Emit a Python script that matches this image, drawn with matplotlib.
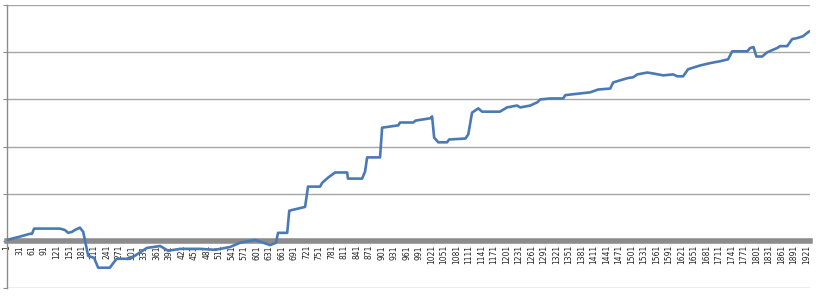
import matplotlib.pyplot as plt
import numpy as np

# cumulative curve, sampled at the turning points (trade number, value in grid units)
trade = [1, 32, 56, 61, 66, 128, 140, 148, 157, 164, 176, 184, 196, 210, 220,
         248, 258, 265, 297, 337, 369, 388, 417, 465, 501, 537, 561, 585, 597,
         633, 647, 652, 674, 679, 717, 724, 753, 758, 772, 789, 818, 820, 854,
         861, 866, 897, 902, 941, 945, 977, 982, 1018, 1022, 1027, 1037, 1058,
         1063, 1102, 1109, 1118, 1133, 1142, 1185, 1202, 1226, 1234, 1258, 1275,
         1282, 1306, 1337, 1342, 1361, 1402, 1421, 1450, 1457, 1491, 1505, 1515,
         1539, 1553, 1577, 1601, 1611, 1625, 1637, 1666, 1690, 1714, 1733, 1743,
         1779, 1786, 1794, 1801, 1815, 1827, 1851, 1858, 1875, 1887, 1899, 1913,
         1926, 1930]
value = [0.02, 0.09, 0.15, 0.15, 0.26, 0.26, 0.23, 0.17, 0.19, 0.23, 0.28, 0.19,
         -0.32, -0.36, -0.57, -0.57, -0.45, -0.38, -0.38, -0.15, -0.11, -0.21,
         -0.17, -0.17, -0.19, -0.13, -0.04, 0.00, 0.02, -0.09, -0.04, 0.17, 0.17,
         0.64, 0.72, 1.15, 1.15, 1.23, 1.34, 1.45, 1.45, 1.32, 1.32, 1.47, 1.77,
         1.77, 2.40, 2.45, 2.51, 2.51, 2.55, 2.60, 2.64, 2.19, 2.09, 2.09, 2.15,
         2.17, 2.26, 2.72, 2.81, 2.74, 2.74, 2.83, 2.87, 2.83, 2.87, 2.94, 3.00,
         3.02, 3.02, 3.09, 3.11, 3.15, 3.21, 3.23, 3.36, 3.45, 3.47, 3.53, 3.57,
         3.55, 3.51, 3.53, 3.49, 3.49, 3.64, 3.72, 3.77, 3.81, 3.85, 4.02, 4.02,
         4.09, 4.11, 3.91, 3.91, 4.00, 4.09, 4.13, 4.13, 4.28, 4.30, 4.34, 4.43,
         4.45]

tick_pos = list(range(1, 1922, 30))
tick_lab = [str(t) for t in tick_pos]

fig = plt.figure(figsize=(8.36, 3.0), dpi=100)
ax = fig.add_axes([0.0084, 0.04, 0.9606, 0.943])

for g in range(-1, 6):
    if g != 0:
        ax.axhline(g, color="#a6a6a6", lw=1, zorder=1)

ax.plot(trade, value, color="#4a7ab5", lw=1.9, zorder=3)

ax.set_xlim(1, 1930)
ax.set_ylim(-1, 5)

ax.spines["top"].set_visible(False)
ax.spines["right"].set_visible(False)
ax.spines["left"].set_color("#8c8c8c")
ax.spines["left"].set_linewidth(1)
ax.spines["bottom"].set_position(("data", 0))
ax.spines["bottom"].set_color("#8c8c8c")
ax.spines["bottom"].set_linewidth(4)
ax.spines["bottom"].set_zorder(2)

ax.set_yticks(range(-1, 6))
ax.set_yticklabels([])
ax.tick_params(axis="y", length=3, color="#8c8c8c", direction="out")

ax.set_xticks(tick_pos)
ax.set_xticklabels(tick_lab, rotation=90, fontsize=5.5, color="#222222")
ax.tick_params(axis="x", length=0, pad=3)

fig.savefig("out.png", dpi=100)
